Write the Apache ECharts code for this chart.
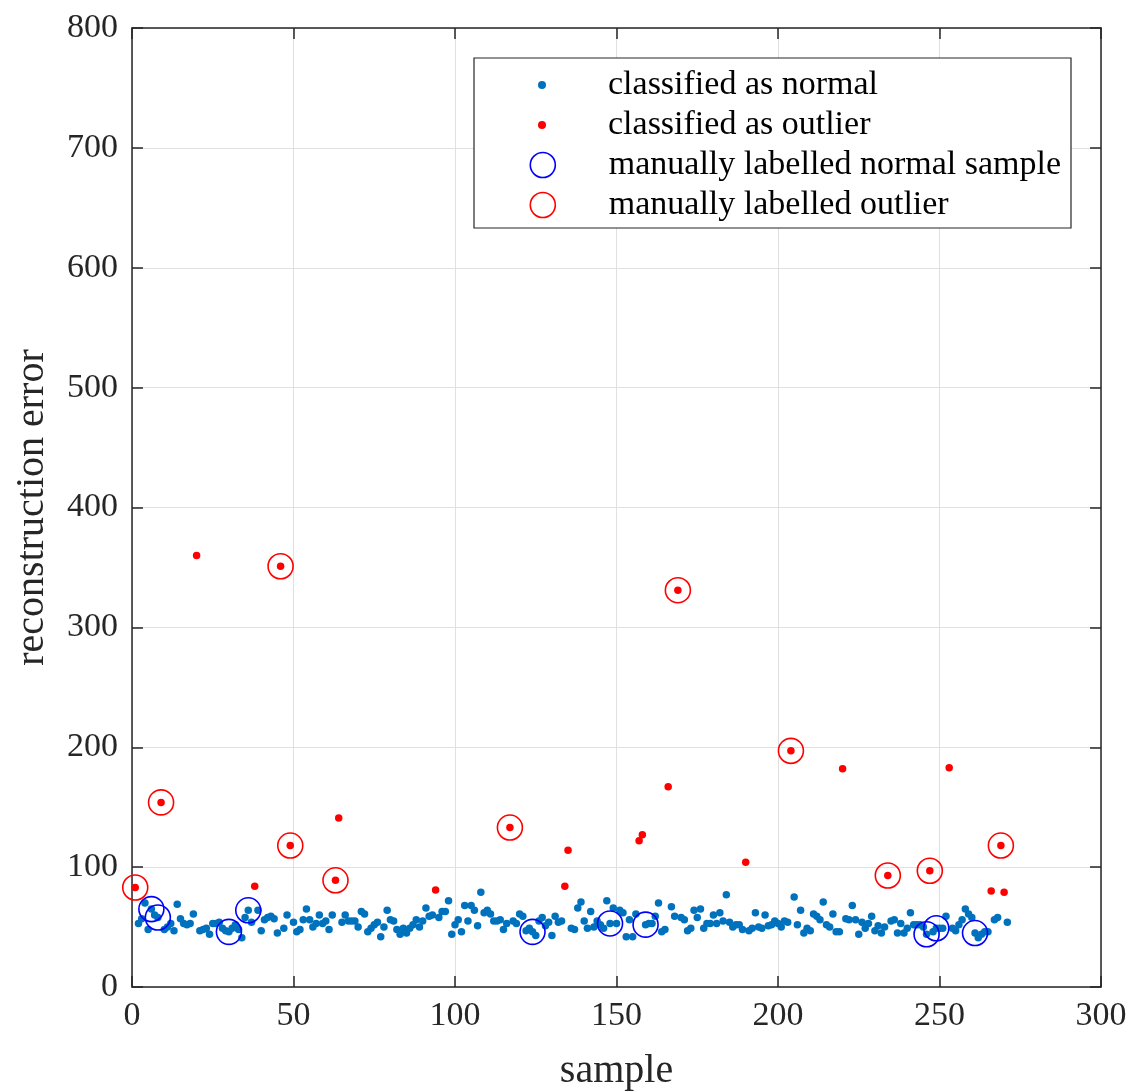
<!DOCTYPE html>
<html><head><meta charset="utf-8">
<script src="https://cdn.jsdelivr.net/npm/echarts@6/dist/echarts.min.js"></script>
<style>html,body{margin:0;padding:0;background:#fff}#c{width:1136px;height:1091px}</style>
</head><body><div id="c"></div><script>
// reconstruction error for samples 1..271
const errors = [
 83,53,57,70,48,65,60,58,154,48, 50,53,47,69,57,53,52,53,61,360,
 47,48,49,44,53,53,54,49,47,46, 49,52,48,41,58,64,54,84,64,47,
 56,58,59,57,45,351,49,60,118,54, 46,48,56,65,56,50,53,60,53,55,
 48,60,89,141,54,60,55,55,55,50, 63,61,46,49,52,54,42,50,64,56,
 55,48,44,49,45,49,52,56,50,55, 66,59,60,81,58,63,63,72,44,52,
 56,46,68,55,68,64,51,79,62,64, 61,55,55,56,48,53,133,55,53,61,
 59,47,49,46,43,55,58,51,54,43, 59,54,55,84,114,49,48,66,71,55,
 49,63,50,55,52,49,72,53,66,53, 64,62,42,56,42,61,122,127,52,53,
 53,59,70,46,48,167,67,59,331,58, 56,47,49,64,58,65,49,53,53,60,
 53,62,55,77,54,50,52,52,48,104, 47,49,62,50,49,60,51,52,55,53,
 50,55,54,197,75,52,64,45,49,47, 61,59,56,71,52,50,61,46,46,182,
 57,56,68,56,44,54,49,53,59,47, 51,45,50,93,55,56,45,53,45,49,
 62,52,52,52,50,44,97,46,49,49, 49,59,183,49,47,52,56,65,61,58,
 45,41,44,46,46,80,56,58,118,79, 54
];
// samples classified as outlier by the model
const outlierSamples = [1,9,20,38,46,49,63,64,94,117,134,135,157,158,166,169,190,204,220,234,247,253,266,269,270];
// manually labelled samples
const labelledNormal = [6,8,30,36,124,148,159,246,249,261];
const labelledOutlier = [1,9,46,49,63,117,169,204,234,247,269];
const xTickValues = [0,50,100,150,200,250,300];
const yTickValues = [0,100,200,300,400,500,600,700,800];
const seriesNames = ['classified as normal','classified as outlier','manually labelled normal sample','manually labelled outlier'];

const pt = s => [s, errors[s-1]];
const normalData = [], outlierData = [];
errors.forEach((v,i)=>{ const s=i+1; (outlierSamples.includes(s)?outlierData:normalData).push(pt(s)); });
const lnData = labelledNormal.map(pt), loData = labelledOutlier.map(pt);

const FONT = 'Liberation Serif';
const AX = '#262626', GRID = '#e0e0e0';
const mkTick = () => ({show:true, inside:true, length:11, lineStyle:{color:AX, width:1.5}});
const mkLine = () => ({show:true, onZero:false, lineStyle:{color:AX, width:1.5}});
const xAxisBase = () => ({type:'value', min:xTickValues[0], max:xTickValues[xTickValues.length-1], interval:50});
const yAxisBase = () => ({type:'value', min:yTickValues[0], max:yTickValues[yTickValues.length-1], interval:100});
const legendCenters = [85,125,165,205];
const iconSizes = [8,8,25,25];
const iconCenterX = 542, textStartX = 608;
const chart = echarts.init(document.getElementById('c'), null, {renderer:'canvas'});
chart.setOption({
  animation:false,
  backgroundColor:'#fff',
  grid:{left:132, right:35, top:28, bottom:104, show:false, containLabel:false, outerBoundsMode:'none'},
  xAxis:[
    Object.assign(xAxisBase(), {position:'bottom', name:'sample', nameLocation:'middle', nameGap:64,
      nameTextStyle:{fontFamily:FONT, fontSize:40, color:'#262626'},
      axisLine:mkLine(), axisTick:mkTick(),
      axisLabel:{margin:12, fontFamily:FONT, fontSize:34, color:'#262626'},
      splitLine:{show:true, lineStyle:{color:GRID, width:1}}}),
    Object.assign(xAxisBase(), {position:'top', axisLine:mkLine(), axisTick:mkTick(), axisLabel:{show:false}, splitLine:{show:false}})
  ],
  yAxis:[
    Object.assign(yAxisBase(), {position:'left', name:'reconstruction error', nameLocation:'middle', nameGap:80,
      nameTextStyle:{fontFamily:FONT, fontSize:40, color:'#262626'},
      axisLine:mkLine(), axisTick:mkTick(),
      axisLabel:{margin:14, fontFamily:FONT, fontSize:34, color:'#262626'},
      splitLine:{show:true, lineStyle:{color:GRID, width:1}}}),
    Object.assign(yAxisBase(), {position:'right', axisLine:mkLine(), axisTick:mkTick(), axisLabel:{show:false}, splitLine:{show:false}})
  ],
  graphic:[{type:'rect', z:5, shape:{x:474, y:58, width:597, height:170}, style:{fill:'#fff', stroke:AX, lineWidth:1.2}}],
  legend: seriesNames.map((n,i)=>({
    data:[n], left:iconCenterX - iconSizes[i]/2, top:legendCenters[i]-17, padding:0, z:10,
    itemWidth:iconSizes[i], itemHeight:iconSizes[i], itemGap:0,
    itemStyle:{borderWidth: i>=2 ? 1.6 : 0},
    textStyle:{fontFamily:FONT, fontSize:34, color:'#000', lineHeight:34,
      padding:[0,0,0, textStartX - (iconCenterX + iconSizes[i]/2) - 5]},
    selectedMode:false
  })),
  series:[
    {name:seriesNames[0], type:'scatter', data:normalData, symbol:'circle', symbolSize:7.5, itemStyle:{color:'#0072BD', opacity:1}, z:2},
    {name:seriesNames[1], type:'scatter', data:outlierData, symbol:'circle', symbolSize:7.5, itemStyle:{color:'#FF0000', opacity:1}, z:2},
    {name:seriesNames[2], type:'scatter', data:lnData, symbol:'circle', symbolSize:25, itemStyle:{color:'rgba(0,0,0,0)', borderColor:'#0000FF', borderWidth:1.6, opacity:1}, z:3},
    {name:seriesNames[3], type:'scatter', data:loData, symbol:'circle', symbolSize:25, itemStyle:{color:'rgba(0,0,0,0)', borderColor:'#FF0000', borderWidth:1.6, opacity:1}, z:3}
  ]
});
</script></body></html>
